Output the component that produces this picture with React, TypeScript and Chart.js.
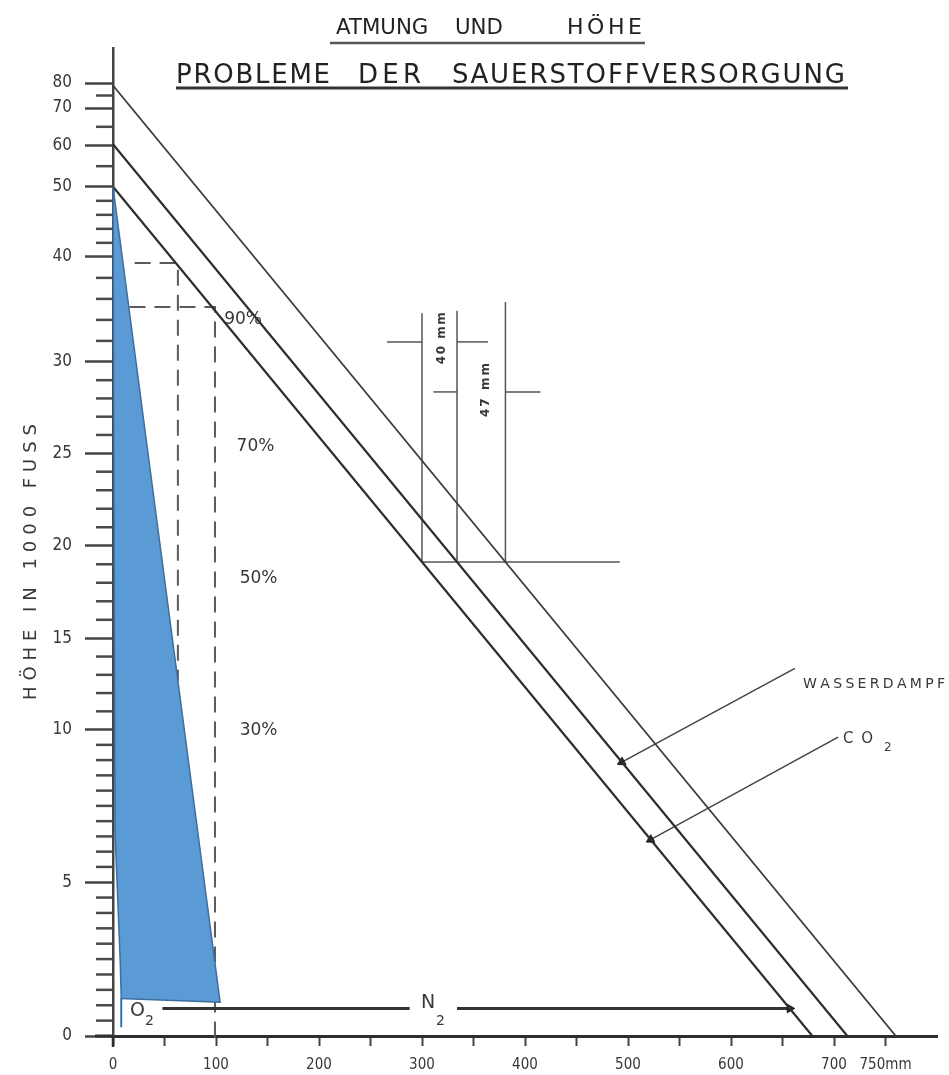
import React, { useEffect, useRef } from 'react';
import { Chart, registerables } from 'chart.js';

Chart.register(...registerables);

// ---------------- data ----------------
// altitude axis (1000 ft) and its calibration on the chart's pressure scale (mm Hg)
const altitudeLabels = [0, 5, 10, 15, 20, 25, 30, 40, 50, 60, 70, 80];
const altitudePressure = [760, 637, 515, 442, 368, 294, 221, 137, 81, 48, 18, -2];
const altitudeMinorStep = [0.5, 0.5, 1, 1, 1, 1, 2, 2, 5, 5, 5];

// pressure axis (mm Hg)
const xTickValues = [0, 50, 100, 150, 200, 250, 300, 350, 400, 450, 500, 550, 600, 650, 700, 750];
const xTickLabels = ['0', '', '100', '', '200', '', '300', '', '400', '', '500', '', '600', '', '700', '750mm'];

// main lines
const totalPressureLine = [{ x: 0, y: 0 }, { x: 760, y: 760 }];
const waterVapourLine = [{ x: 0, y: 47 }, { x: 713, y: 760 }];
const co2Line = [{ x: 0, y: 81 }, { x: 679, y: 760 }];

// alveolar O2 area
const alveolarO2 = [
  { x: 0, y: 81 }, { x: 104, y: 733 }, { x: 8, y: 730 }, { x: 7, y: 700 }, { x: 2, y: 597 }, { x: 0, y: 81 },
];
const o2Marker = [{ x: 8, y: 730 }, { x: 8, y: 753 }];

// dashed guides
const guideUpper = [{ x: 21, y: 142 }, { x: 63, y: 142 }, { x: 63, y: 476 }];
const guideLower = [{ x: 16, y: 177 }, { x: 99, y: 177 }, { x: 99, y: 767 }];

// N2 arrow
const n2ArrowLeft = [{ x: 48, y: 738 }, { x: 288, y: 738 }];
const n2ArrowRight = [{ x: 334, y: 738 }, { x: 657, y: 738 }];

// pointers
const vapourPointer = [{ x: 662, y: 466 }, { x: 494, y: 541 }];
const co2Pointer = [{ x: 704, y: 521 }, { x: 522, y: 603 }];

// dimension lines (40 mm / 47 mm)
const dimA = [{ x: 300, y: 182 }, { x: 300, y: 381 }];
const dimB = [{ x: 334, y: 180 }, { x: 334, y: 381 }];
const dimC = [{ x: 381, y: 173 }, { x: 381, y: 381 }];
const dimBase = [{ x: 300, y: 381 }, { x: 492, y: 381 }];
const dim40L = [{ x: 266, y: 205 }, { x: 300, y: 205 }];
const dim40R = [{ x: 334, y: 205 }, { x: 364, y: 205 }];
const dim47L = [{ x: 311, y: 245 }, { x: 334, y: 245 }];
const dim47R = [{ x: 381, y: 245 }, { x: 415, y: 245 }];

// texts
const percentTexts = ['90%', '70%', '50%', '30%'];
const percentAnchors = [[108, 187.5], [120, 289], [123, 394], [123, 516]];

// ---------------- helpers ----------------
const FONT_NARROW = "'DejaVu Sans Condensed', 'Liberation Sans Narrow', 'DejaVu Sans', sans-serif";
const FONT = "'DejaVu Sans', 'Noto Sans', sans-serif";
const INK = '#2e2e2e';
const TEXT = '#383838';

function minorAltitudeTicks(): number[] {
  const out: number[] = [];
  for (let i = 0; i < altitudeLabels.length - 1; i++) {
    const a0 = altitudeLabels[i], a1 = altitudeLabels[i + 1];
    const p0 = altitudePressure[i], p1 = altitudePressure[i + 1];
    const step = altitudeMinorStep[i];
    for (let a = a0 + step; a < a1 - 1e-9; a += step) {
      out.push(p0 + ((p1 - p0) * (a - a0)) / (a1 - a0));
    }
  }
  return out;
}

function drawSpaced(ctx: CanvasRenderingContext2D, text: string, x1: number, x2: number, y: number) {
  const chars = Array.from(text);
  const widths = chars.map((c) => ctx.measureText(c).width);
  const total = widths.reduce((a, b) => a + b, 0);
  const target = x2 - x1;
  if (total >= target || chars.length < 2) {
    ctx.save();
    ctx.translate(x1, y);
    ctx.scale(target / total, 1);
    ctx.fillText(text, 0, 0);
    ctx.restore();
    return;
  }
  const extra = (target - total) / (chars.length - 1);
  let x = x1;
  chars.forEach((c, i) => {
    ctx.fillText(c, x, y);
    x += widths[i] + extra;
  });
}

function arrowRotation(c: any) {
  const data = c.dataset.data;
  const a = data[data.length - 2], b = data[data.length - 1];
  const xs = c.chart.scales.x, ys = c.chart.scales.y;
  if (!xs || !ys) return 0;
  const dx = xs.getPixelForValue(b.x) - xs.getPixelForValue(a.x);
  const dy = ys.getPixelForValue(b.y) - ys.getPixelForValue(a.y);
  return (Math.atan2(dy, dx) * 180) / Math.PI + 90;
}

const lineDs = (data: any[], color: string, width: number, extra: any = {}) => ({
  data,
  borderColor: color,
  backgroundColor: color,
  borderWidth: width,
  pointRadius: 0,
  pointHoverRadius: 0,
  fill: false,
  tension: 0,
  clip: false,
  ...extra,
});

const arrowExtra = (color: string) => ({
  pointStyle: 'triangle',
  pointRadius: (c: any) => (c.dataIndex === c.dataset.data.length - 1 ? 5 : 0),
  pointBackgroundColor: color,
  pointBorderColor: color,
  pointBorderWidth: 1,
  rotation: arrowRotation,
});

const overlayPlugin = {
  id: 'overlay',
  afterDraw(chart: any) {
    const ctx: CanvasRenderingContext2D = chart.ctx;
    const xs = chart.scales.x, ys = chart.scales.y;
    const px = (v: number) => xs.getPixelForValue(v);
    const py = (v: number) => ys.getPixelForValue(v);
    const area = chart.chartArea;
    ctx.save();

    // axis extensions
    ctx.strokeStyle = INK;
    ctx.lineWidth = 3;
    ctx.beginPath();
    ctx.moveTo(area.left - 18, area.bottom);
    ctx.lineTo(area.left, area.bottom);
    ctx.stroke();
    ctx.lineWidth = 2.5;
    ctx.beginPath();
    ctx.moveTo(area.left, area.bottom);
    ctx.lineTo(area.left, area.bottom + 11);
    ctx.stroke();

    // minor altitude ticks
    ctx.strokeStyle = '#4a4a4a';
    ctx.lineWidth = 2.5;
    minorAltitudeTicks().forEach((p) => {
      const y = py(p);
      ctx.beginPath();
      ctx.moveTo(area.left - 17, y);
      ctx.lineTo(area.left, y);
      ctx.stroke();
    });

    // title
    ctx.fillStyle = '#222';
    ctx.textAlign = 'left';
    ctx.textBaseline = 'alphabetic';
    ctx.font = `22px ${FONT}`;
    drawSpaced(ctx, 'ATMUNG', 336, 430, 34);
    drawSpaced(ctx, 'UND', 455, 503, 34);
    drawSpaced(ctx, 'HÖHE', 567, 642, 34);
    ctx.font = `26px ${FONT}`;
    drawSpaced(ctx, 'PROBLEME', 176, 330, 83);
    drawSpaced(ctx, 'DER', 358, 421, 83);
    drawSpaced(ctx, 'SAUERSTOFFVERSORGUNG', 452, 845, 83);
    ctx.strokeStyle = '#555';
    ctx.lineWidth = 2.5;
    ctx.beginPath();
    ctx.moveTo(330, 43);
    ctx.lineTo(645, 43);
    ctx.stroke();
    ctx.strokeStyle = '#333';
    ctx.lineWidth = 3;
    ctx.beginPath();
    ctx.moveTo(176, 88);
    ctx.lineTo(848, 88);
    ctx.stroke();

    // y axis title
    ctx.fillStyle = TEXT;
    ctx.save();
    ctx.translate(31, 700);
    ctx.rotate(-Math.PI / 2);
    ctx.textBaseline = 'middle';
    ctx.font = `18px ${FONT}`;
    drawSpaced(ctx, 'HÖHE IN 1000 FUSS', 0, 276, 0);
    ctx.restore();

    // percent labels
    ctx.font = `17px ${FONT}`;
    ctx.textBaseline = 'middle';
    percentTexts.forEach((t, i) => {
      const [vx, vy] = percentAnchors[i];
      ctx.fillText(t, px(vx), py(vy));
    });

    // pointer labels
    ctx.font = `14px ${FONT}`;
    drawSpaced(ctx, 'WASSERDAMPF', px(670), px(670) + 142, py(479));
    ctx.font = `15px ${FONT}`;
    drawSpaced(ctx, 'CO', px(708.7), px(708.7) + 30, py(523));
    ctx.font = `12px ${FONT}`;
    ctx.fillText('2', px(748.5), py(530));

    // O2 / N2 labels
    ctx.font = `19px ${FONT}`;
    ctx.fillText('O', px(16.5), py(740));
    ctx.fillText('N', px(299), py(734));
    ctx.font = `14px ${FONT}`;
    ctx.fillText('2', px(31), py(748));
    ctx.fillText('2', px(313.6), py(748));

    // dimension labels (rotated)
    ctx.font = `bold 12px ${FONT}`;
    const rotLabel = (t: string, vx: number, vy: number, len: number) => {
      ctx.save();
      ctx.translate(px(vx), py(vy));
      ctx.rotate(-Math.PI / 2);
      ctx.textBaseline = 'middle';
      drawSpaced(ctx, t, -len / 2, len / 2, 0);
      ctx.restore();
    };
    rotLabel('40 mm', 319, 202, 52);
    rotLabel('47 mm', 362, 243.5, 54);

    ctx.restore();
  },
};

export default function App() {
  const canvasRef = useRef<HTMLCanvasElement>(null);

  useEffect(() => {
    if (!canvasRef.current) return;
    const dashColor = '#5a5a5a';
    const dimColor = '#555';
    const chart = new Chart(canvasRef.current, {
      type: 'line',
      data: {
        datasets: [
          lineDs(alveolarO2, '#3D6E9E', 1.5, { fill: 'shape', backgroundColor: '#5B9BD5', order: -1 }),
          lineDs(o2Marker, '#2E75B6', 2),
          lineDs(co2Line, INK, 2.2),
          lineDs(waterVapourLine, INK, 2.2),
          lineDs(totalPressureLine, '#3a3a3a', 1.8),
          lineDs(n2ArrowLeft, '#333', 3),
          lineDs(n2ArrowRight, '#333', 3, arrowExtra('#222')),
          lineDs(vapourPointer, '#444', 1.5, arrowExtra('#222')),
          lineDs(co2Pointer, '#444', 1.5, arrowExtra('#222')),
          lineDs(guideUpper, dashColor, 2, { borderDash: [16, 9], order: 5 }),
          lineDs(guideLower, dashColor, 2, { borderDash: [16, 9], order: 5 }),
          lineDs(dimA, dimColor, 1.5),
          lineDs(dimB, dimColor, 1.5),
          lineDs(dimC, dimColor, 1.5),
          lineDs(dimBase, dimColor, 1.5),
          lineDs(dim40L, dimColor, 1.5),
          lineDs(dim40R, dimColor, 1.5),
          lineDs(dim47L, dimColor, 1.5),
          lineDs(dim47R, dimColor, 1.5),
        ] as any,
      },
      options: {
        animation: false,
        responsive: true,
        maintainAspectRatio: false,
        events: [],
        layout: { padding: { top: 48, right: 12, bottom: 0, left: 0 } },
        plugins: {
          legend: { display: false },
          tooltip: { enabled: false },
          title: { display: false },
        },
        scales: {
          x: {
            type: 'linear',
            min: 0,
            max: 800,
            afterFit: (s: any) => {
              s.height = 39;
            },
            afterBuildTicks: (s: any) => {
              s.ticks = xTickValues.map((v) => ({ value: v }));
            },
            grid: { drawOnChartArea: false, tickLength: 10, tickColor: '#444', tickWidth: 2 },
            border: { color: INK, width: 3 },
            ticks: {
              autoSkip: false,
              maxRotation: 0,
              padding: 10,
              color: TEXT,
              font: { family: FONT_NARROW, size: 15 },
              callback: (_v: any, i: number) => xTickLabels[i],
            },
          },
          y: {
            type: 'linear',
            reverse: true,
            min: -30,
            max: 760,
            afterFit: (s: any) => {
              s.width = 113;
            },
            afterBuildTicks: (s: any) => {
              s.ticks = altitudePressure.map((v) => ({ value: v }));
            },
            grid: { drawOnChartArea: false, tickLength: 28, tickColor: '#444', tickWidth: 2.5 },
            border: { color: '#444', width: 2.5 },
            ticks: {
              autoSkip: false,
              padding: 13,
              color: TEXT,
              font: { family: FONT_NARROW, size: 17 },
              callback: (v: any) => {
                const i = altitudePressure.indexOf(Number(v));
                return i >= 0 ? String(altitudeLabels[i]) : '';
              },
            },
          },
        },
      } as any,
      plugins: [overlayPlugin],
    });
    return () => chart.destroy();
  }, []);

  return (
    <div style={{ position: 'fixed', left: 0, top: 0, width: 949, height: 1075, background: '#fff' }}>
      <canvas ref={canvasRef} />
    </div>
  );
}
